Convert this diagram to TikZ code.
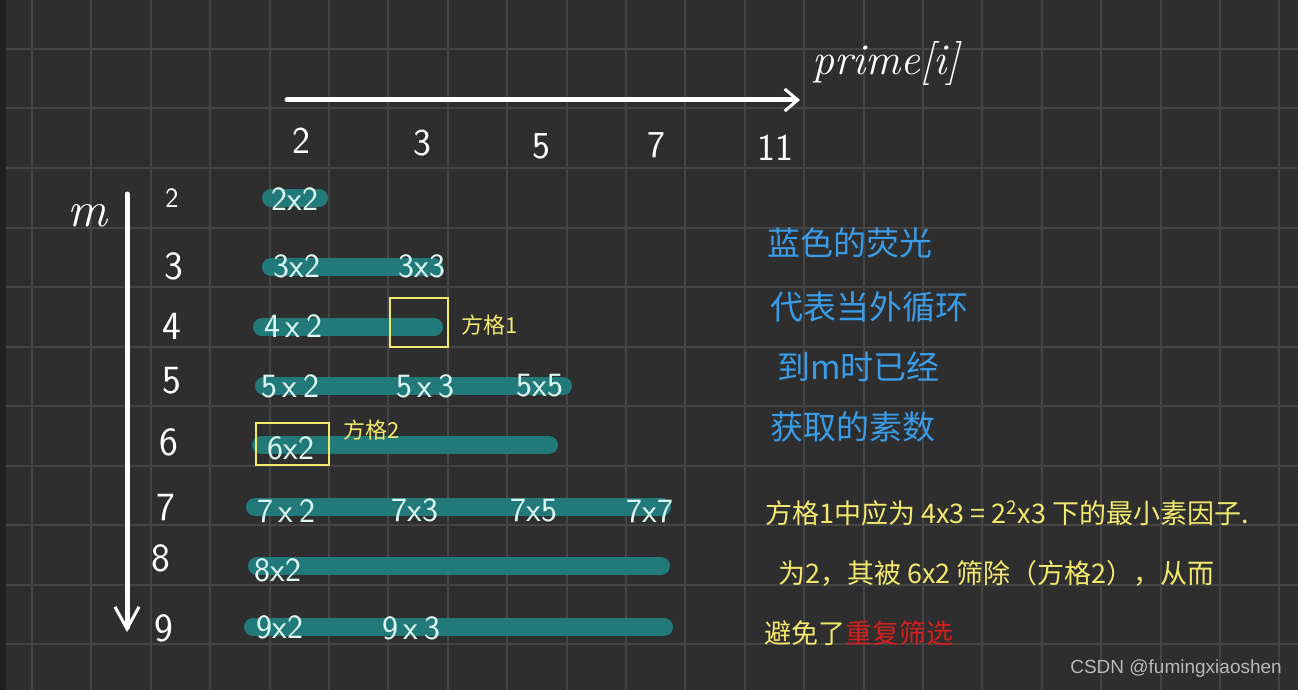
\documentclass[tikz,border=0pt]{standalone}
\usepackage{fontspec}
\newfontfamily\cjk{Noto Sans CJK SC}
\newfontfamily\wmfont{Liberation Sans}
\usetikzlibrary{arrows.meta}
\definecolor{bgc}{HTML}{2E2E2E}
\definecolor{edgec}{HTML}{1F1F1F}
\definecolor{gridc}{HTML}{444444}
\definecolor{barc}{HTML}{22797A}
\definecolor{labc}{HTML}{DDF7F2}
\definecolor{ylw}{HTML}{F2E86E}
\definecolor{blu}{HTML}{3A9BE6}
\definecolor{rdc}{HTML}{D41F1F}
\definecolor{wmc}{HTML}{B8B8B8}
\begin{document}
\begin{tikzpicture}[x=1pt,y=-1pt,
  gridline/.style={draw=gridc,line width=2pt},
  bar/.style={draw=barc,line width=18pt,line cap=round},
  lbl/.style={text=labc,inner sep=0pt,font=\sffamily\fontsize{34}{34}\selectfont},
  hdr/.style={text=white,inner sep=0pt,font=\sffamily\fontsize{38}{38}\selectfont},
  rowlbl/.style={text=white,inner sep=0pt,font=\sffamily\fontsize{40}{40}\selectfont},
  ybox/.style={draw=ylw,line width=2.5pt},
  arr/.style={draw=white,line width=5pt,line cap=round},
  bluetxt/.style={text=blu,anchor=west,inner sep=0pt,font=\cjk\fontsize{33}{33}\selectfont},
  ylwtxt/.style={text=ylw,anchor=west,inner sep=0pt,font=\cjk\fontsize{27}{27}\selectfont},
  boxtag/.style={text=ylw,inner sep=0pt,font=\cjk\fontsize{22}{22}\selectfont}]
\fill[bgc] (0,0) rectangle (1298,690);
\fill[edgec] (0,0) rectangle (6,690);
\useasboundingbox (0,0) rectangle (1298,690);
\foreach \i in {0,...,21} \draw[gridline] ({32+59.4*\i},0) -- ({32+59.4*\i},690);
\foreach \j in {0,...,10} \draw[gridline] (6,{49+59.5*\j}) -- (1298,{49+59.5*\j});

% axes
\coordinate (hs) at (287,100);
\coordinate (he) at (800,100);
\draw[arr,-{Straight Barb[length=13pt,width=22pt,line width=3pt]}] (hs) -- (he);
\node[text=white,inner sep=0pt,anchor=base west,font=\itshape\fontsize{44}{44}\selectfont] (prime) at (812,75) {prime[i]};
\coordinate (vs) at (127,194);
\coordinate (ve) at (127,632);
\draw[arr,-{Straight Barb[length=22pt,width=24pt,line width=3pt]}] (vs) -- (ve);
\node[text=white,inner sep=0pt,font=\itshape\fontsize{50}{50}\selectfont] (m) at (87,216) {m};

% column headers
\node[hdr] (c2) at (301,141) {2};
\node[hdr] (c3) at (422,143) {3};
\node[hdr] (c5) at (541,146) {5};
\node[hdr] (c7) at (656,145) {7};
\node[hdr] (c11) at (775,148) {11};

% row labels
\node[rowlbl,font=\sffamily\fontsize{28}{28}\selectfont] (r2) at (172,198) {2};
\node[rowlbl] (r3) at (174,266) {3};
\node[rowlbl] (r4) at (172,326) {4};
\node[rowlbl] (r5) at (172,381) {5};
\node[rowlbl] (r6) at (169,442) {6};
\node[rowlbl] (r7) at (166,508) {7};
\node[rowlbl] (r8) at (161,558) {8};
\node[rowlbl] (r9) at (164,628) {9};

% bars
\draw[bar] (271,198) coordinate (b2s) -- (319,198) coordinate (b2e);
\draw[bar] (271,267) coordinate (b3s) -- (434,267) coordinate (b3e);
\draw[bar] (262,327) coordinate (b4s) -- (434,327) coordinate (b4e);
\draw[bar] (264,386) coordinate (b5s) -- (563,386) coordinate (b5e);
\draw[bar] (261,445) coordinate (b6s) -- (549,445) coordinate (b6e);
\draw[bar] (255,507) coordinate (b7s) -- (662,507) coordinate (b7e);
\draw[bar] (257,566) coordinate (b8s) -- (661,566) coordinate (b8e);
\draw[bar] (253,627) coordinate (b9s) -- (664,627) coordinate (b9e);

% bar labels
\node[lbl] (l22) at (295,199) {2x2};
\node[lbl] (l32) at (297,266) {3x2};
\node[lbl] (l33) at (422,266) {3x3};
\node[lbl] (l42) at (293,326) {4\,x\,2};
\node[lbl] (l52) at (290,386) {5\,x\,2};
\node[lbl] (l53) at (425,386) {5\,x\,3};
\node[lbl] (l55) at (540,386) {5x5};
\node[lbl] (l62) at (291,448) {6x2};
\node[lbl] (l72) at (286,511) {7\,x\,2};
\node[lbl] (l73) at (415,510) {7x3};
\node[lbl] (l75) at (534,511) {7x5};
\node[lbl] (l77) at (650,511) {7x7};
\node[lbl] (l82) at (278,570) {8x2};
\node[lbl] (l92) at (280,627) {9x2};
\node[lbl] (l93) at (411,628) {9\,x\,3};

% yellow boxes
\draw[ybox] (390,298) rectangle (448,347);
\node[boxtag] (t1) at (490,325) {方格1};
\draw[ybox] (256,423) rectangle (329,465);
\node[boxtag] (t2) at (372,430) {方格2};

% blue notes
\node[bluetxt] (n1) at (767,243) {蓝色的荧光};
\node[bluetxt] (n2) at (770,307) {代表当外循环};
\node[bluetxt] (n3) at (777,367) {到m时已经};
\node[bluetxt] (n4) at (770,427) {获取的素数};

% yellow notes
\node[ylwtxt] (y1) at (765,513) {方格1中应为 4x3 = 2\textsuperscript{2}x3 下的最小素因子.};
\node[ylwtxt] (y2) at (778,573) {为2，其被 6x2 筛除（方格2），从而};
\node[ylwtxt] (y3) at (764,633) {避免了\textcolor{rdc}{重复筛选}};

% watermark
\node[text=wmc,anchor=east,inner sep=0pt,font=\wmfont\fontsize{19}{19}\selectfont] (wm) at (1282,669) {CSDN @fumingxiaoshen};
\end{tikzpicture}
\end{document}
